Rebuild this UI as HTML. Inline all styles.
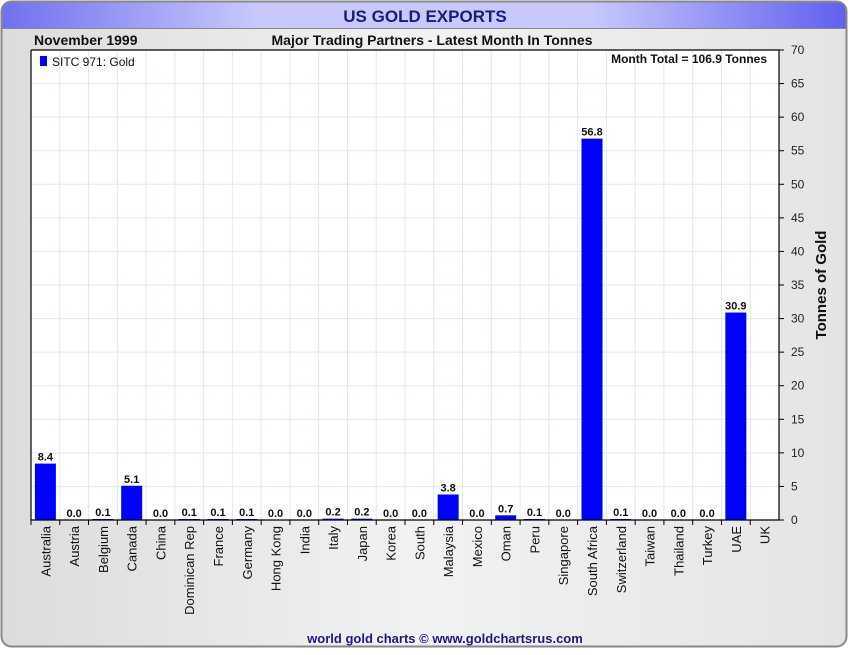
<!DOCTYPE html>
<html><head><meta charset="utf-8"><style>
body{margin:0;width:850px;height:650px;overflow:hidden;background:#fff;font-family:"Liberation Sans",sans-serif}
</style></head><body>
<svg id="c" width="850" height="650" xmlns="http://www.w3.org/2000/svg">
<defs>
<linearGradient id="bg" x1="0" x2="1" y1="0" y2="0"><stop offset="0" stop-color="#dcdcdc"/><stop offset="0.5" stop-color="#f2f2f2"/><stop offset="1" stop-color="#e4e4e4"/></linearGradient>
<linearGradient id="tb" x1="0" x2="1" y1="0" y2="0"><stop offset="0" stop-color="#7070f0"/><stop offset="0.3" stop-color="#c8c8fc"/><stop offset="0.7" stop-color="#c8c8fc"/><stop offset="1" stop-color="#6060ee"/></linearGradient>
</defs>
<rect x="1.5" y="1.5" width="845" height="645" rx="10" fill="url(#bg)" stroke="#888" stroke-width="2"/>
<path d="M2.5 28 V12 Q2.5 2.5 12 2.5 H836 Q845.5 2.5 845.5 12 V28 Z" fill="url(#tb)"/>
<line x1="2" y1="28.5" x2="846" y2="28.5" stroke="#888"/>
<text x="425" y="22" text-anchor="middle" font-size="17" font-weight="bold" fill="#1a1a80">US GOLD EXPORTS</text>
<text x="34" y="45" font-size="14" font-weight="bold" fill="#111">November 1999</text>
<text x="432" y="45" text-anchor="middle" font-size="14" font-weight="bold" fill="#111">Major Trading Partners - Latest Month In Tonnes</text>
<rect x="31" y="50" width="748" height="470" fill="#fff"/>
<g id="grid"></g><g id="bars"></g><g id="axes"></g>
<rect x="40" y="56" width="7" height="10" fill="#0000ff"/>
<text x="52" y="66" font-size="12" fill="#111">SITC 971: Gold</text>
<text x="767" y="63" text-anchor="end" font-size="12" font-weight="bold" fill="#111">Month Total = 106.9 Tonnes</text>
<text transform="translate(826,285) rotate(-90)" text-anchor="middle" font-size="15" font-weight="bold" fill="#111">Tonnes of Gold</text>
<text x="445" y="643" text-anchor="middle" font-size="13" font-weight="bold" fill="#1a1a80">world gold charts © www.goldchartsrus.com</text>
</svg>
<script>
const categories=["Australia","Austria","Belgium","Canada","China","Dominican Rep","France","Germany","Hong Kong","India","Italy","Japan","Korea","South","Malaysia","Mexico","Oman","Peru","Singapore","South Africa","Switzerland","Taiwan","Thailand","Turkey","UAE","UK"];
const values=[8.4,0.0,0.1,5.1,0.0,0.1,0.1,0.1,0.0,0.0,0.2,0.2,0.0,0.0,3.8,0.0,0.7,0.1,0.0,56.8,0.1,0.0,0.0,0.0,30.9,null];
const yTicks=[0,5,10,15,20,25,30,35,40,45,50,55,60,65,70];
const NS="http://www.w3.org/2000/svg";
const L=31,R=779,T=50,B=520,yMax=70;
const bw=(R-L)/categories.length;
const y=v=>B-(v/yMax)*(B-T);
const xc=i=>L+bw*(i+0.5);
function mk(tag,attrs,parent,text){const e=document.createElementNS(NS,tag);for(const k in attrs)e.setAttribute(k,attrs[k]);if(text!=null)e.textContent=text;document.getElementById(parent).appendChild(e);return e;}
yTicks.forEach(t=>{
 const g=mk('line',{x1:L,x2:R,y1:y(t),y2:y(t),stroke:'#dde9f5'},'grid');
 
 
 const tk=mk('line',{x1:R,x2:R+5,y1:y(t),y2:y(t),stroke:'#000'},'axes');
 
 
 const lb=mk('text',{x:R+12,y:y(t)+4,'font-size':12,fill:'#222'},'axes',String(t));
 
 
});
categories.forEach((c,i)=>{
 const gx=L+bw*(i+1);
 const g=mk('line',{x1:gx,x2:gx,y1:T,y2:B,stroke:'#dde9f5'},'grid');
 
 
 const tk=mk('line',{x1:L+bw*i,x2:L+bw*i,y1:B,y2:B+5,stroke:'#000'},'axes');
 
 
 const lb=mk('text',{transform:`translate(${xc(i)+5},${B+6}) rotate(-90)`,'text-anchor':'end','font-size':13,fill:'#111'},'axes',c);
 
 
 const v=values[i];
 if(v!=null){
  const h=Math.max(B-y(v),v>0?1:0);
  const b=mk('rect',{x:xc(i)-10.5,y:B-h,width:21,height:h,fill:'#0000ff'},'bars');
  
  
  const vl=mk('text',{x:xc(i),y:B-h-3,'text-anchor':'middle','font-size':11,'font-weight':'bold',fill:'#111'},'bars',v.toFixed(1));
  
  
 }
});
const ax=mk('path',{d:`M${L} ${T} V${B} H${R} V${T} H${L}`,fill:'none',stroke:'#000','stroke-width':1.2},'axes');


</script>
</body></html>
